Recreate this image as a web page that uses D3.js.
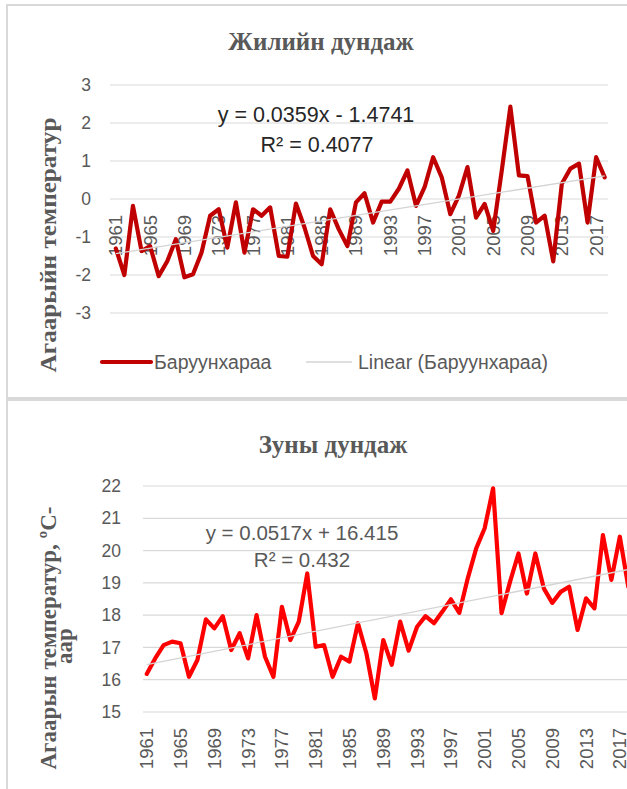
<!DOCTYPE html>
<html>
<head>
<meta charset="utf-8">
<script src="https://cdn.jsdelivr.net/npm/d3@7"></script>
<style>
  html, body { margin: 0; padding: 0; background: #ffffff; }
  svg { display: block; }
</style>
</head>
<body>
<svg id="chart" width="627" height="789"></svg>
<script>
// ---------------- DATA ----------------
const years = d3.range(1961, 2019).map(String);

// Annual mean temperature anomaly (Баруунхараа)
const annualValues = [
  -1.3, -2.0, -0.18, -1.37, -1.24, -2.03, -1.64, -1.06, -2.06, -1.98,
  -1.41, -0.44, -0.27, -1.28, -0.09, -1.41, -0.27, -0.44, -0.22, -1.5,
  -1.52, -0.12, -0.75, -1.5, -1.72, -0.27, -0.8, -1.24, -0.09, 0.15,
  -0.62, -0.07, -0.07, 0.27, 0.75, -0.18, 0.31, 1.1, 0.57, -0.4,
  0.09, 0.84, -0.49, -0.13, -0.84, 0.75, 2.43, 0.62, 0.6, -0.62,
  -0.44, -1.64, 0.4, 0.8, 0.93, -0.62, 1.1, 0.57
];

// Summer mean temperature
const summerValues = [
  16.18, 16.66, 17.07, 17.18, 17.13, 16.09, 16.61, 17.87, 17.59, 17.97,
  16.92, 17.44, 16.66, 18.0, 16.71, 16.09, 18.26, 17.23, 17.8, 19.29,
  17.02, 17.07, 16.09, 16.71, 16.56, 17.75, 16.82, 15.42, 17.23, 16.46,
  17.8, 16.9, 17.64, 17.97, 17.75, 18.11, 18.49, 18.07, 19.14, 20.07,
  20.69, 21.93, 18.06, 19.03, 19.91, 18.67, 19.91, 18.83, 18.38, 18.72,
  18.88, 17.54, 18.52, 18.21, 20.48, 19.09, 20.43, 18.88
];

const annualTicks = [-3, -2, -1, 0, 1, 2, 3];
const summerTicks = [15, 16, 17, 18, 19, 20, 21, 22];
const yearLabels = years.filter((d, i) => i % 4 === 0);

// Trendline coefficients shown in the charts (slope, intercept)
const annualTrend = [0.0359, -1.4741];
const summerTrend = [0.0517, 16.415];

const annualTitle = "Жилийн дундаж";
const summerTitle = "Зуны дундаж";
const annualYTitle = ["Агаарыйн температур"];
const summerYTitle = ["Агаарын температур, ºС-", "аар"];
const annualEq = ["y = 0.0359x - 1.4741", "R² = 0.4077"];
const summerEq = ["y = 0.0517x + 16.415", "R² = 0.432"];
const legendLabels = ["Баруунхараа", "Linear (Баруунхараа)"];

// ---------------- DRAW ----------------
const svg = d3.select("#chart");
const SANS = "'Liberation Sans', Arial, sans-serif";
const SERIF = "'Liberation Serif', 'Times New Roman', serif";
const GRID = "#d9d9d9";
const TXT = "#595959";

// panel borders
const border = svg.append("g").attr("stroke", "#d9d9d9").attr("fill", "none");
border.append("line").attr("x1", 7).attr("x2", 627).attr("y1", 5).attr("y2", 5).attr("stroke-width", 2);
border.append("line").attr("x1", 7).attr("x2", 7).attr("y1", 4).attr("y2", 789).attr("stroke-width", 2);
border.append("line").attr("x1", 7).attr("x2", 627).attr("y1", 399).attr("y2", 399).attr("stroke-width", 4);

function drawChart(cfg) {
  const g = svg.append("g");
  const x = d3.scalePoint().domain(years).range(cfg.xRange).padding(0.5);
  const y = d3.scaleLinear().domain(cfg.yDomain).range(cfg.yRange);

  // gridlines
  g.append("g").selectAll("line").data(cfg.ticks).join("line")
    .attr("x1", cfg.gridX[0]).attr("x2", cfg.gridX[1])
    .attr("y1", d => y(d)).attr("y2", d => y(d))
    .attr("stroke", GRID).attr("stroke-width", 1.2);

  // y tick labels
  g.append("g").selectAll("text").data(cfg.ticks).join("text")
    .attr("x", cfg.tickX).attr("y", d => y(d)).attr("dy", "0.35em")
    .attr("text-anchor", "end")
    .attr("font-family", SANS).attr("font-size", 17.5).attr("fill", TXT)
    .text(d => d);

  // x labels
  g.append("g").selectAll("text").data(yearLabels).join("text")
    .attr("transform", d => `translate(${x(d)},${cfg.xLabelY}) rotate(-90)`)
    .attr("dy", "0.35em").attr("text-anchor", "end")
    .attr("font-family", SANS).attr("font-size", 18.5).attr("fill", TXT)
    .text(d => d);

  // series line
  const line = d3.line().x((d, i) => x(years[i])).y(d => y(d)).curve(d3.curveLinear);
  g.append("path").datum(cfg.values)
    .attr("d", line).attr("fill", "none")
    .attr("stroke", cfg.color).attr("stroke-width", 4.2)
    .attr("stroke-linejoin", "round").attr("stroke-linecap", "round");

  // trendline (from chart's regression equation)
  const n = years.length;
  const tr = [1, n].map(k => ({ yr: years[k - 1], v: cfg.trend[0] * k + cfg.trend[1] }));
  g.append("line")
    .attr("x1", x(tr[0].yr)).attr("y1", y(tr[0].v))
    .attr("x2", x(tr[1].yr)).attr("y2", y(tr[1].v))
    .attr("stroke", "#d4d4d4").attr("stroke-width", 1.3);

  // title
  g.append("text").attr("x", cfg.titlePos[0]).attr("y", cfg.titlePos[1])
    .attr("text-anchor", "middle").attr("font-family", SERIF).attr("font-weight", "bold")
    .attr("font-size", 25).attr("fill", TXT).text(cfg.title);

  // y-axis title
  cfg.yTitle.forEach((t, i) => {
    const el = g.append("text")
      .attr("transform", `translate(${cfg.yTitlePos[i][0]},${cfg.yTitlePos[i][1]}) rotate(-90)`)
      .attr("text-anchor", "middle").attr("dy", "0.35em")
      .attr("font-family", SERIF).attr("font-weight", "bold").attr("font-size", 23)
      .attr("fill", TXT).text(t);
    if (cfg.yTitleLen[i]) el.attr("textLength", cfg.yTitleLen[i]).attr("lengthAdjust", "spacingAndGlyphs");
  });

  // equation
  cfg.eq.forEach((t, i) => {
    g.append("text").attr("x", cfg.eqPos[i][0]).attr("y", cfg.eqPos[i][1])
      .attr("text-anchor", "middle").attr("font-family", SANS).attr("font-size", cfg.eqSize)
      .attr("fill", cfg.eqColor).text(t);
  });
}

drawChart({
  values: annualValues, ticks: annualTicks, yDomain: [-3, 3], yRange: [313, 85],
  xRange: [111.5, 609], gridX: [110, 608], tickX: 91, xLabelY: 215,
  color: "#c00000", trend: annualTrend, title: annualTitle, titlePos: [321, 50],
  yTitle: annualYTitle, yTitlePos: [[48, 245]], yTitleLen: [255],
  eq: annualEq, eqPos: [[316, 122], [317, 152]], eqColor: "#262626", eqSize: 21.5
});

drawChart({
  values: summerValues, ticks: summerTicks, yDomain: [15, 22], yRange: [712, 486],
  xRange: [142.5, 632.5], gridX: [143, 627], tickX: 121, xLabelY: 728,
  color: "#ff0000", trend: summerTrend, title: summerTitle, titlePos: [333, 453],
  yTitle: summerYTitle, yTitlePos: [[48, 638], [64, 646]], yTitleLen: [263, null],
  eq: summerEq, eqPos: [[302, 540], [302, 567]], eqColor: TXT, eqSize: 20.5
});

// legend (top chart)
const lg = svg.append("g");
lg.append("line").attr("x1", 102).attr("x2", 151).attr("y1", 362).attr("y2", 362)
  .attr("stroke", "#c00000").attr("stroke-width", 4.2).attr("stroke-linecap", "round");
lg.append("text").attr("x", 154).attr("y", 362).attr("dy", "0.35em")
  .attr("font-family", SANS).attr("font-size", 19.5).attr("fill", TXT).text(legendLabels[0]);
lg.append("line").attr("x1", 306).attr("x2", 352).attr("y1", 362).attr("y2", 362)
  .attr("stroke", "#d4d4d4").attr("stroke-width", 1.3);
lg.append("text").attr("x", 358).attr("y", 362).attr("dy", "0.35em")
  .attr("font-family", SANS).attr("font-size", 19.5).attr("fill", TXT).text(legendLabels[1]);
</script>
</body>
</html>
